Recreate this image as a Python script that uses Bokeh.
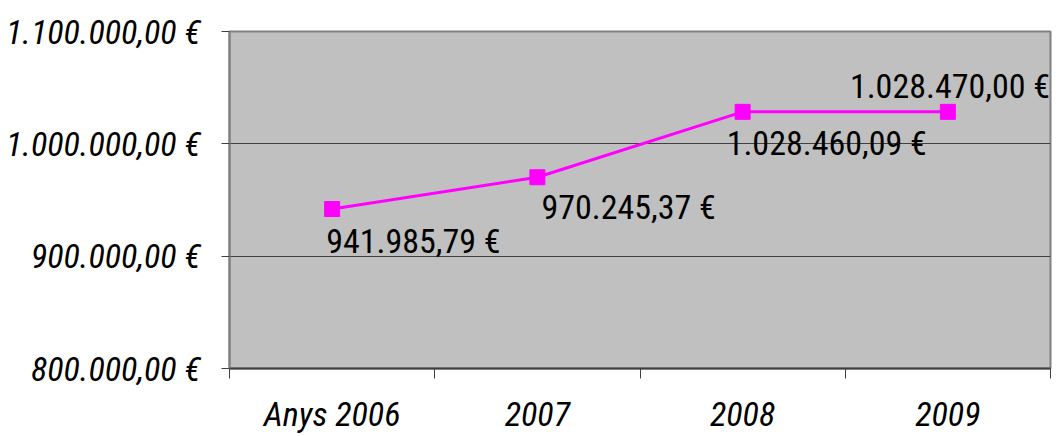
from bokeh.plotting import figure
from bokeh.models import FixedTicker, Range1d, ColumnDataSource
from bokeh.core.properties import value
from bokeh.embed import file_html
from bokeh.resources import INLINE

# ---- data ----
categories = ["Anys 2006", "2007", "2008", "2009"]
amounts = [941985.79, 970245.37, 1028460.09, 1028470.00]
y_ticks = [800000, 900000, 1000000, 1100000]

def eur(v):
    s = f"{v:,.2f}"
    return s.replace(",", "X").replace(".", ",").replace("X", ".") + " €"

# ---- style ----
FONT = "Roboto Condensed"
label_dx = [-6, 4, -16, -98]
label_dy = [32, 30, 31, -26]   # screen px, positive = down

xs = [i + 0.5 for i in range(len(categories))]
src = ColumnDataSource(dict(x=xs, y=amounts, lbl=[eur(v) for v in amounts],
                            dx=label_dx, dy=label_dy))

p = figure(width=1060, height=436, output_backend="svg", toolbar_location=None,
           x_range=Range1d(0, len(categories)), y_range=Range1d(y_ticks[0], y_ticks[-1]),
           min_border_left=229, min_border_right=10, min_border_top=31, min_border_bottom=64)

p.background_fill_color = "#C0C0C0"
p.border_fill_color = "white"
p.outline_line_color = "#808080"
p.outline_line_width = 2

# y axis
p.yaxis.ticker = FixedTicker(ticks=y_ticks)
p.yaxis.major_label_overrides = {t: eur(t) for t in y_ticks}
p.yaxis.major_label_text_font = FONT
p.yaxis.major_label_text_font_style = "italic"
p.yaxis.major_label_text_font_size = "34px"
p.yaxis.major_label_text_color = "black"
p.yaxis.major_label_standoff = 21
p.yaxis.major_tick_out = 8
p.yaxis.major_tick_in = 0
p.yaxis.minor_tick_out = 0
p.yaxis.minor_tick_in = 0
p.yaxis.axis_line_color = "#808080"
p.yaxis.axis_line_width = 2
p.yaxis.major_tick_line_color = "#404040"

# x axis: labels at category centers, ticks at boundaries
p.xaxis.ticker = FixedTicker(ticks=xs, minor_ticks=list(range(len(categories) + 1)))
p.xaxis.major_label_overrides = {x: c for x, c in zip(xs, categories)}
p.xaxis.major_label_text_font = FONT
p.xaxis.major_label_text_font_style = "italic"
p.xaxis.major_label_text_font_size = "34px"
p.xaxis.major_label_text_color = "black"
p.xaxis.major_label_standoff = 15
p.xaxis.major_tick_out = 0
p.xaxis.major_tick_in = 0
p.xaxis.minor_tick_out = 10
p.xaxis.minor_tick_in = 0
p.xaxis.minor_tick_line_color = "#404040"
p.xaxis.axis_line_color = "#404040"
p.xaxis.axis_line_width = 2

p.xgrid.grid_line_color = None
p.ygrid.ticker = FixedTicker(ticks=y_ticks[1:-1])
p.ygrid.grid_line_color = "#404040"
p.ygrid.grid_line_width = 1

p.line("x", "y", source=src, line_color="#FF00FF", line_width=3)
p.scatter("x", "y", source=src, marker="square", size=15,
          fill_color="#FF00FF", line_color="#FF00FF")
p.text("x", "y", text="lbl", source=src, x_offset="dx", y_offset="dy",
       text_font=value(FONT), text_font_size="34px", text_color="black",
       text_align="left", text_baseline="alphabetic")

open("out.html", "w").write(file_html(p, INLINE))
